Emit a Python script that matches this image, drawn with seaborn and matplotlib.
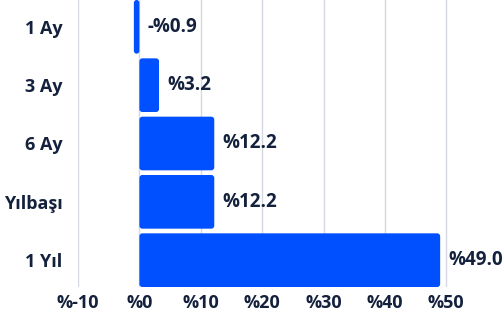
"""
Return by period, horizontal bar chart.
"""
import matplotlib
matplotlib.use('Agg')
import matplotlib.pyplot as plt
import pandas as pd
import seaborn as sns
from matplotlib.patches import FancyBboxPatch

periods = ['1 Ay', '3 Ay', '6 Ay', 'Yılbaşı', '1 Yıl']
returns = [-0.9, 3.2, 12.2, 12.2, 49.0]
x_ticks = [-10, 0, 10, 20, 30, 40, 50]

BAR_COLOR = '#0050FF'
TEXT_COLOR = '#14213D'
GRID_COLOR = '#D3D8E3'
FONT = 'Open Sans'


def round_bars(ax, px_x, px_y, radius_px=3):
    # swap seaborn's rectangles for rounded ones
    for p in list(ax.patches):
        x, y = p.get_x(), p.get_y()
        w, h = p.get_width(), p.get_height()
        if w < 0:
            x, w = x + w, -w
        r = min(radius_px / px_x, w / 2)
        fb = FancyBboxPatch((x, y), w, h,
                            boxstyle=f'round,pad=0,rounding_size={r}',
                            mutation_aspect=px_x / px_y,
                            facecolor=p.get_facecolor(), edgecolor='none', zorder=2)
        p.remove()
        ax.add_patch(fb)


def main():
    df = pd.DataFrame({'period': periods, 'ret': returns})

    sns.set_theme(style='white')
    plt.rcParams['font.family'] = [FONT, 'DejaVu Sans']

    fig = plt.figure(figsize=(5.04, 3.15), dpi=100)
    ax = fig.add_axes([78 / 504, 28 / 315, (504 - 78) / 504, 287 / 315])

    sns.barplot(data=df, x='ret', y='period', orient='h', color=BAR_COLOR,
                saturation=1, width=0.92, ax=ax, zorder=2)

    xmin, xmax = -10, 59.4
    ax.set_xlim(xmin, xmax)
    ax.set_ylim(4.46, -0.46)

    px_x = 426 / (xmax - xmin)
    px_y = 287 / 4.92
    round_bars(ax, px_x, px_y)

    ax.set_xticks(x_ticks)
    ax.set_xticklabels([f'%{t}' for t in x_ticks])
    ax.xaxis.grid(True, color=GRID_COLOR, lw=1, zorder=0)
    ax.yaxis.grid(False)
    ax.set_axisbelow(True)
    for s in ax.spines.values():
        s.set_visible(False)
    ax.tick_params(axis='both', length=0, labelsize=13, labelcolor=TEXT_COLOR)
    ax.tick_params(axis='y', pad=11)
    ax.tick_params(axis='x', pad=5)
    for lab in ax.get_xticklabels() + ax.get_yticklabels():
        lab.set_fontweight('bold')
    ax.set_xlabel(None)
    ax.set_ylabel(None)

    # value labels
    for i, v in enumerate(returns):
        txt = f'-%{abs(v):.1f}' if v < 0 else f'%{v:.1f}'
        ax.annotate(txt, (max(v, 0), i), xytext=(8, 0), textcoords='offset pixels',
                    ha='left', va='center', fontsize=13.5, fontweight='bold',
                    color=TEXT_COLOR, annotation_clip=False)

    fig.savefig('out.png', dpi=100)
    plt.close()


if __name__ == '__main__':
    main()
